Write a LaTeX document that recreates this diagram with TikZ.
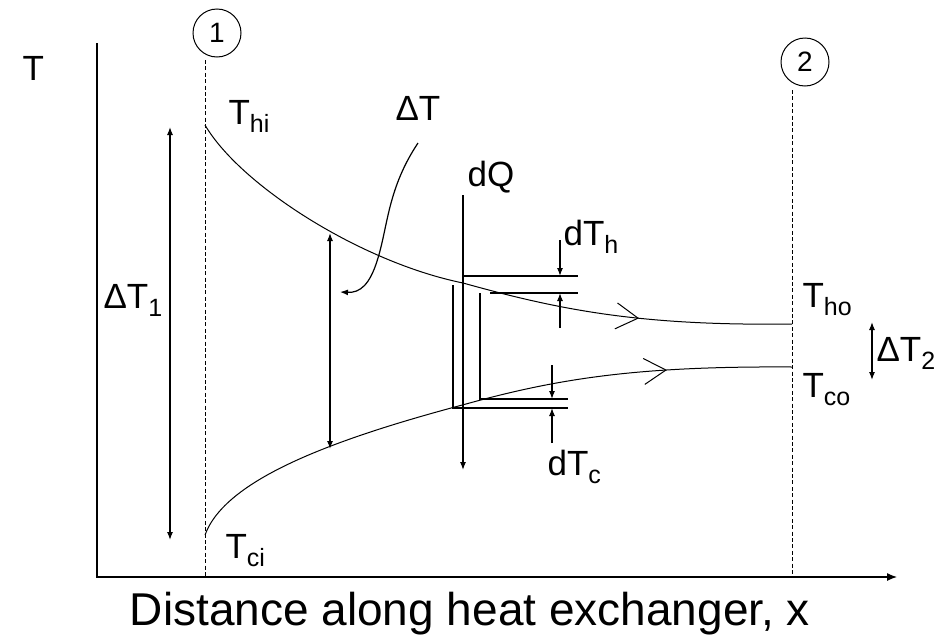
\documentclass[tikz,border=0pt]{standalone}
\usepackage{fontspec}
\setmainfont{Liberation Sans}
\usetikzlibrary{arrows.meta, decorations.markings}
\newcommand{\lowsub}[1]{\raisebox{-4pt}{\fontsize{12.5}{12.5}\selectfont #1}}

\begin{document}
\begin{tikzpicture}[x=0.5pt, y=-0.5pt, line width=0.6pt, >={Latex[length=4pt,width=3pt]}]
\tikzset{lbl/.style={font=\fontsize{17.5}{17.5}\selectfont, inner sep=0pt, anchor=base west},
  stn/.style={draw, circle, minimum size=24pt, inner sep=0pt, line width=0.5pt, font=\fontsize{14}{14}\selectfont},
  guide/.style={dash pattern=on 2pt off 1.2pt, line width=0.5pt},
  flow/.style={line width=0.5pt, decoration={markings, mark=at position #1 with {\arrow{Straight Barb[length=11pt,width=13pt]}}}, postaction=decorate}}
\useasboundingbox (0,0) rectangle (937,643);
% axes
\coordinate (Ytop) at (97,43);
\coordinate (Xend) at (897,577);
\draw[-{Latex[length=5pt,width=4pt]}] (Ytop) |- (Xend);
\node[lbl] (Tax) at (22,80) {T};
\node[font=\fontsize{23}{23}\selectfont] (Xlab) at (470,614) {Distance along heat exchanger, x};
% stations
\node[stn] (S1) at (217,33) {1};
\node[stn] (S2) at (805,62) {2};
\coordinate (D1a) at (205,60); \coordinate (D1b) at (205,577);
\coordinate (D2a) at (792,90); \coordinate (D2b) at (792,577);
\draw[guide] (D1a) -- (D1b); \draw[guide] (D2a) -- (D2b);
% hot and cold streams
\coordinate (Hi) at (205,125); \coordinate (Hm) at (463,283); \coordinate (Ho) at (792,324);
\coordinate (Ci) at (205,535); \coordinate (Cm) at (466,404); \coordinate (Co) at (792,367);
\draw[line width=0.5pt] (Hi) .. controls (240,185) and (360,262) .. (Hm);
\draw[flow=0.54] (Hm) .. controls (560,310) and (640,326) .. (Ho);
\draw[line width=0.5pt] (Ci) .. controls (225,480) and (330,440) .. (Cm);
\draw[flow=0.62] (Cm) .. controls (560,378) and (640,366) .. (Co);
\node[lbl] (Thi) at (228,124) {T\lowsub{hi}};
\node[lbl] (Tci) at (225,558) {T\lowsub{ci}};
\node[lbl] (Tho) at (802,307) {T\lowsub{ho}};
\node[lbl] (Tco) at (802,397) {T\lowsub{co}};
% temperature differences
\draw[<->] (170,127) -- (170,540);
\node[lbl] (dT1) at (103,308) {ΔT\lowsub{1}};
\draw[<->] (330,233) -- (330,449);
\node[lbl] (dT) at (395,120) {ΔT};
\coordinate (dTs) at (418,143);
\draw[->] (dTs) .. controls (388,188) and (388,225) .. (378,258) .. controls (370,285) and (360,293) .. (340,292);
\draw[<->] (872,322) -- (872,380);
\node[lbl] (dT2) at (876,361) {ΔT\lowsub{2}};
% element
\draw[->] (463,195) -- (463,470);
\node[lbl] (dQ) at (467,186) {dQ};
\draw (463,276) -- (578,276);
\draw (490,293) -- (578,293);
\draw (453,285) -- (453,408) -- (568,408);
\draw (480,293) -- (480,399) -- (568,399);
\draw[->] (560,240) -- (560,276);
\draw[->] (560,328) -- (560,293);
\draw[->] (552,365) -- (552,399);
\draw[->] (552,443) -- (552,408);
\node[lbl] (dTh) at (563,245) {dT\lowsub{h}};
\node[lbl] (dTc) at (547,475) {dT\lowsub{c}};
\end{tikzpicture}
\end{document}
